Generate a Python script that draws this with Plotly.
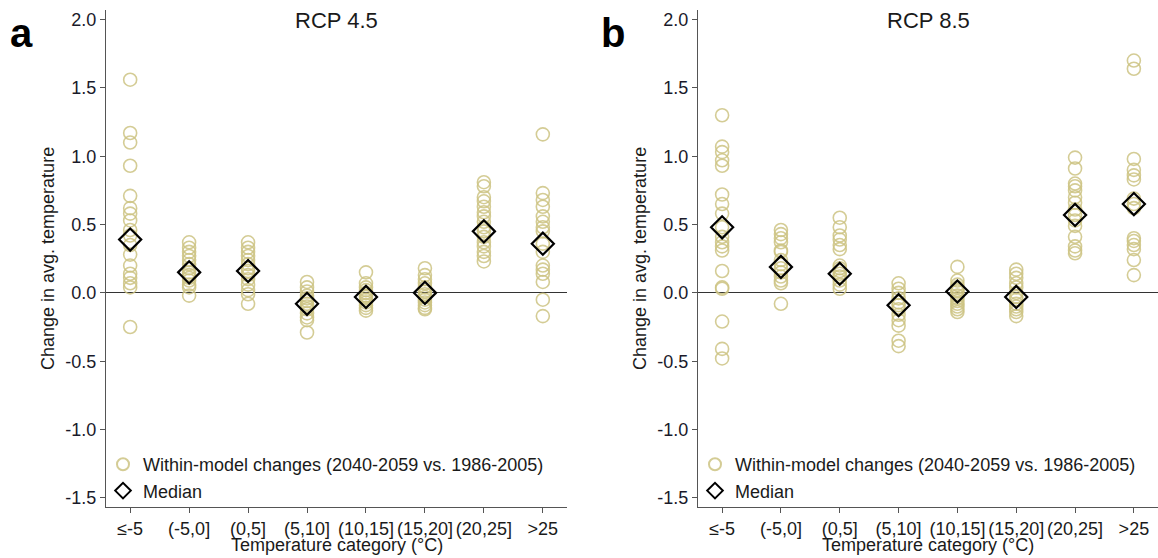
import plotly.graph_objects as go

categories = ["≤-5", "(-5,0]", "(0,5]", "(5,10]", "(10,15]", "(15,20]", "(20,25]", ">25"]

# RCP 4.5 within-model changes per category
rcp45 = [
    [1.56, 1.17, 1.10, 0.93, 0.71, 0.62, 0.58, 0.53, 0.46, 0.42, 0.35, 0.28, 0.20, 0.14, 0.11, 0.07, 0.04, -0.25],
    [0.37, 0.33, 0.30, 0.27, 0.24, 0.21, 0.18, 0.15, 0.13, 0.11, 0.09, 0.06, 0.04, -0.02],
    [0.37, 0.33, 0.30, 0.27, 0.24, 0.21, 0.18, 0.16, 0.13, 0.10, 0.06, 0.02, -0.01, -0.08],
    [0.08, 0.04, 0.01, -0.02, -0.04, -0.06, -0.08, -0.10, -0.12, -0.15, -0.18, -0.20, -0.29],
    [0.15, 0.07, 0.04, 0.02, 0.00, -0.02, -0.03, -0.05, -0.07, -0.09, -0.11, -0.13],
    [0.18, 0.13, 0.10, 0.07, 0.04, 0.01, -0.01, -0.03, -0.05, -0.07, -0.09, -0.11, -0.12],
    [0.81, 0.78, 0.70, 0.67, 0.63, 0.59, 0.56, 0.52, 0.48, 0.45, 0.41, 0.37, 0.34, 0.30, 0.27, 0.23],
    [1.16, 0.73, 0.68, 0.63, 0.56, 0.52, 0.48, 0.45, 0.36, 0.30, 0.20, 0.17, 0.14, 0.08, -0.05, -0.17],
]
rcp45_median = [0.39, 0.15, 0.16, -0.08, -0.03, 0.00, 0.45, 0.36]

# RCP 8.5 within-model changes per category
rcp85 = [
    [1.30, 1.07, 1.03, 0.97, 0.93, 0.72, 0.65, 0.58, 0.48, 0.41, 0.37, 0.34, 0.31, 0.16, 0.04, 0.03, -0.21, -0.41, -0.48],
    [0.46, 0.43, 0.40, 0.37, 0.31, 0.30, 0.24, 0.21, 0.18, 0.15, 0.12, 0.09, 0.07, -0.08],
    [0.55, 0.48, 0.42, 0.39, 0.35, 0.32, 0.20, 0.18, 0.16, 0.14, 0.12, 0.09, 0.06, 0.03],
    [0.07, 0.03, 0.00, -0.04, -0.07, -0.09, -0.12, -0.16, -0.20, -0.24, -0.35, -0.39],
    [0.19, 0.09, 0.06, 0.04, 0.02, 0.01, -0.02, -0.04, -0.06, -0.08, -0.10, -0.12, -0.14],
    [0.17, 0.14, 0.11, 0.07, 0.04, 0.00, -0.03, -0.05, -0.08, -0.10, -0.12, -0.14, -0.17],
    [0.99, 0.91, 0.80, 0.78, 0.75, 0.70, 0.66, 0.61, 0.57, 0.53, 0.49, 0.41, 0.34, 0.31, 0.29],
    [1.70, 1.64, 0.98, 0.90, 0.86, 0.83, 0.69, 0.65, 0.62, 0.40, 0.38, 0.35, 0.32, 0.24, 0.13],
]
rcp85_median = [0.48, 0.19, 0.14, -0.09, 0.01, -0.03, 0.57, 0.65]

y_ticks = [-1.5, -1.0, -0.5, 0.0, 0.5, 1.0, 1.5, 2.0]
y_ticktext = ["-1.5", "-1.0", "-0.5", "0.0", "0.5", "1.0", "1.5", "2.0"]
panel_titles = ["RCP 4.5", "RCP 8.5"]
panel_letters = ["a", "b"]

KHAKI = "rgba(205,195,130,0.85)"
FONT = "Liberation Sans, Arial, sans-serif"
FS = 18

fig = go.Figure()

for i, (data, med) in enumerate([(rcp45, rcp45_median), (rcp85, rcp85_median)]):
    xs, ys = [], []
    for ci, vals in enumerate(data):
        xs += [categories[ci]] * len(vals)
        ys += vals
    suffix = "" if i == 0 else str(i + 1)
    leg = "legend" if i == 0 else "legend2"
    fig.add_trace(go.Scatter(
        x=xs, y=ys, mode="markers",
        name="Within-model changes (2040-2059 vs. 1986-2005)",
        marker=dict(symbol="circle-open", size=13, color=KHAKI, line=dict(width=1.6)),
        xaxis="x" + suffix, yaxis="y" + suffix, legend=leg,
    ))
    fig.add_trace(go.Scatter(
        x=categories, y=med, mode="markers", name="Median",
        marker=dict(symbol="diamond-open", size=17, color="black", line=dict(width=2.2)),
        xaxis="x" + suffix, yaxis="y" + suffix, legend=leg,
    ))

xcommon = dict(
    type="category", categoryorder="array", categoryarray=categories,
    range=[-0.41, 7.41], showgrid=False, zeroline=False,
    showline=True, linecolor="#555", linewidth=1,
    ticks="outside", ticklen=5, tickcolor="#555",
    tickfont=dict(family=FONT, size=FS, color="#1a1a1a"),
    fixedrange=True,
)
ycommon = dict(
    range=[-1.567, 2.07], showgrid=False,
    zeroline=True, zerolinecolor="#333", zerolinewidth=1,
    showline=True, linecolor="#555", linewidth=1,
    ticks="outside", ticklen=5, tickcolor="#555",
    tickmode="array", tickvals=y_ticks, ticktext=y_ticktext,
    tickfont=dict(family=FONT, size=FS, color="#1a1a2a"),
    domain=[1 - 507 / 558, 1 - 10 / 558],
)

W, H = 1158, 558
legcommon = dict(xanchor="left", yanchor="top", bgcolor="rgba(0,0,0,0)",
                 font=dict(family=FONT, size=FS, color="#1a1a1a"),
                 tracegroupgap=0, itemsizing="constant")
fig.update_layout(
    width=W, height=H,
    margin=dict(l=0, r=0, t=0, b=0),
    paper_bgcolor="white", plot_bgcolor="white",
    font=dict(family=FONT, size=FS, color="#1a1a1a"),
    xaxis=dict(xcommon, domain=[106 / W, 567 / W], anchor="y"),
    yaxis=dict(ycommon, anchor="x"),
    xaxis2=dict(xcommon, domain=[698 / W, 1.0], anchor="y2"),
    yaxis2=dict(ycommon, anchor="x2"),
    legend=dict(legcommon, x=103 / W, y=1 - 446 / H),
    legend2=dict(legcommon, x=695 / W, y=1 - 446 / H),
    showlegend=True,
)

centers = [(106 + 567) / 2 / W, (698 + 1158) / 2 / W]
ytitle_x = [48 / W, 640 / W]
letter_x = [21 / W, 613 / W]
for i in range(2):
    common = dict(xref="paper", yref="paper", showarrow=False, xanchor="center", yanchor="middle")
    fig.add_annotation(text=panel_titles[i], x=centers[i], y=1 - 20 / H,
                       font=dict(family=FONT, size=22, color="#1a1a1a"), **common)
    fig.add_annotation(text="Temperature category (°C)", x=centers[i], y=1 - 545 / H,
                       font=dict(family=FONT, size=FS, color="#1a1a1a"), **common)
    fig.add_annotation(text="Change in avg. temperature", x=ytitle_x[i], y=1 - 259 / H,
                       textangle=-90, font=dict(family=FONT, size=FS, color="#1a1a1a"), **common)
    fig.add_annotation(text="<b>" + panel_letters[i] + "</b>", x=letter_x[i], y=1 - 33 / H,
                       font=dict(family=FONT, size=40, color="black"), **common)

fig.write_html("out.html")
